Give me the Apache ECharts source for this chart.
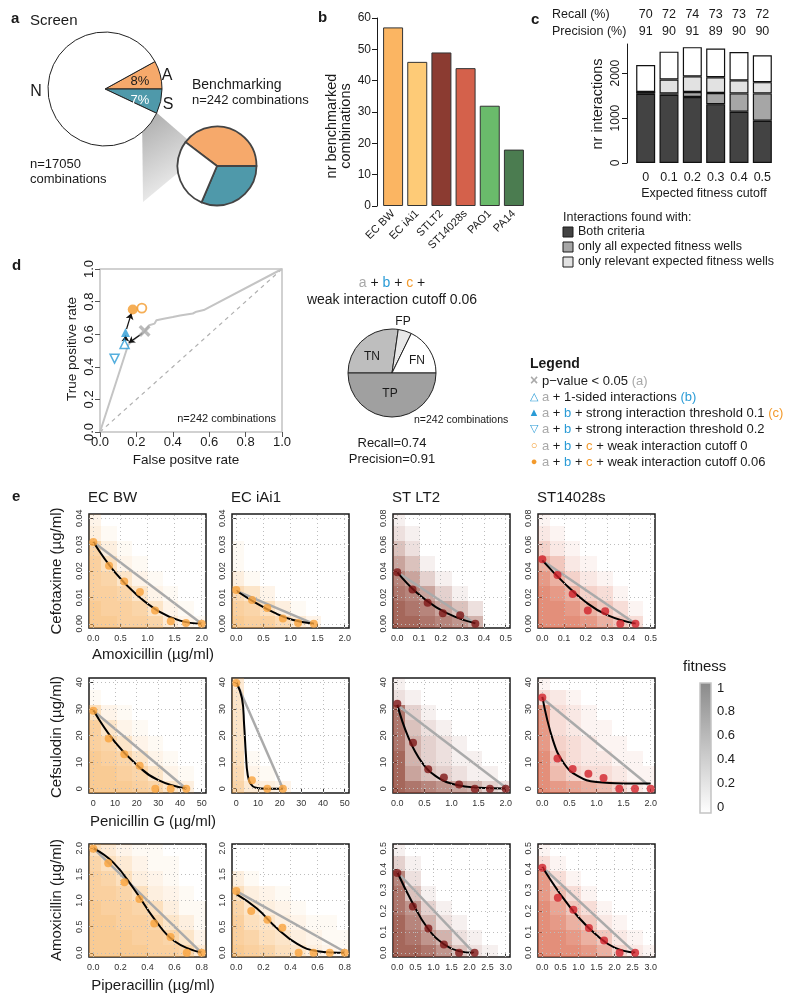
<!DOCTYPE html>
<html lang="en">
<head>
<meta charset="UTF-8">
<title>Benchmarking of drug interactions</title>
<script src="https://cdn.jsdelivr.net/npm/echarts@6/dist/echarts.min.js"></script>
<style>
    html, body { margin: 0; padding: 0; background: #fff; }
    #main { width: 800px; height: 1005px; }
</style>
</head>
<body>
<div id="main"></div>
<script>
var FF = '"Liberation Sans", Arial, Helvetica, sans-serif';

// ---- a: screen pie + benchmark pie
var screenNames = ['A', 'S', 'N'];
var screenShare = [8, 7, 85];
var benchCounts = [96, 76, 70];
var pieColors = ['#F6A96B', '#4F99AA', '#FFFFFF'];

// ---- b: benchmarked combinations per strain
var strains = ['EC BW', 'EC iAi1', 'STLT2', 'ST14028s', 'PAO1', 'PA14'];
var benchmarked = [57, 46, 49, 44, 32, 18];
var strainColors = ['#FBB562', '#FECB77', '#8B3B31', '#D4614B', '#6ABB6B', '#4B7C50'];

// ---- c: expected fitness cutoff
var cutoffs = ['0', '0.1', '0.2', '0.3', '0.4', '0.5'];
var recall = [70, 72, 74, 73, 73, 72];
var precision = [91, 90, 91, 89, 90, 90];
var bothCriteria = [1540, 1520, 1470, 1310, 1140, 940];
var onlyAllWells = [40, 30, 110, 250, 410, 610];
var onlyRelevantWells = [0, 310, 350, 350, 290, 250];
var restTop = [600, 620, 650, 640, 630, 600];

// ---- d: ROC
var rocCurve = [[0, 0], [0.155, 0.535], [0.2, 0.58], [0.245, 0.615], [0.27, 0.655], [0.3, 0.665],
    [0.31, 0.685], [0.35, 0.695], [0.4, 0.705], [0.44, 0.715], [0.51, 0.727], [0.53, 0.738],
    [0.57, 0.748], [1, 1]];
var ptPvalue = [[0.245, 0.62]];
var ptOneSided = [[0.135, 0.54]];
var ptStrong01 = [[0.14, 0.61]];
var ptStrong02 = [[0.08, 0.45]];
var ptWeak0 = [[0.23, 0.76]];
var ptWeak006 = [[0.18, 0.752]];
var rocArrows = [
    [[0.232, 0.604], [0.158, 0.548]],
    [[0.14, 0.56], [0.141, 0.592]],
    [[0.146, 0.632], [0.172, 0.728]]
];
var confNames = ['TN', 'FP', 'FN', 'TP'];
var confCounts = [66, 12, 43, 121];
var confColors = ['#BEBEBE', '#E8E8E8', '#FFFFFF', '#A0A0A0'];

// ---- e: isoboles
var eStrains = ['EC BW', 'EC iAi1', 'ST LT2', 'ST14028s'];
var eDrugX = ['Amoxicillin (µg/ml)', 'Penicillin G (µg/ml)', 'Piperacillin (µg/ml)'];
var eDrugY = ['Cefotaxime (µg/ml)', 'Cefsulodin (µg/ml)', 'Amoxicillin (µg/ml)'];
// [row][0 = E. coli, 1 = Salmonella]
var eXTicks = [
    [[0, 0.5, 1, 1.5, 2], [0, 0.1, 0.2, 0.3, 0.4, 0.5]],
    [[0, 10, 20, 30, 40, 50], [0, 0.5, 1, 1.5, 2]],
    [[0, 0.2, 0.4, 0.6, 0.8], [0, 0.5, 1, 1.5, 2, 2.5, 3]]
];
var eYTicks = [
    [[0, 0.01, 0.02, 0.03, 0.04], [0, 0.02, 0.04, 0.06, 0.08]],
    [[0, 10, 20, 30, 40], [0, 10, 20, 30, 40]],
    [[0, 0.5, 1, 1.5, 2], [0, 0.1, 0.2, 0.3, 0.4, 0.5]]
];
var eXDec = [[1, 1], [0, 1], [1, 1]];
var eYDec = [[2, 2], [0, 0], [1, 1]];
var doseX = [
    [[0, 0.29, 0.57, 0.86, 1.14, 1.43, 1.71, 2], [0, 0.07, 0.14, 0.21, 0.29, 0.36, 0.43, 0.5]],
    [[0, 7.1, 14.3, 21.4, 28.6, 35.7, 42.9, 50], [0, 0.29, 0.57, 0.86, 1.14, 1.43, 1.71, 2]],
    [[0, 0.11, 0.23, 0.34, 0.46, 0.57, 0.69, 0.8], [0, 0.43, 0.86, 1.29, 1.71, 2.14, 2.57, 3]]
];
var doseY = [
    [[0, 0.0057, 0.0114, 0.0171, 0.0229, 0.0286, 0.0343, 0.04], [0, 0.0114, 0.0229, 0.0343, 0.0457, 0.0571, 0.0686, 0.08]],
    [[0, 5.7, 11.4, 17.1, 22.9, 28.6, 34.3, 40], [0, 5.7, 11.4, 17.1, 22.9, 28.6, 34.3, 40]],
    [[0, 0.29, 0.57, 0.86, 1.14, 1.43, 1.71, 2], [0, 0.071, 0.143, 0.214, 0.286, 0.357, 0.429, 0.5]]
];
// fitness x10, rows from highest dose (top) to zero (bottom)
var heatBW1 = [[2,0,0,0,0,0,0,0],[3,1,0,0,0,0,0,0],[8,3,1,0,0,0,0,0],[9,6,2,1,0,0,0,0],[9,8,5,2,1,0,0,0],[9,9,8,5,2,1,0,0],[10,9,9,8,5,2,1,0],[10,10,9,9,8,4,2,1]];
var heatIA1 = [[0,0,0,0,0,0,0,0],[0,0,0,0,0,0,0,0],[1,0,0,0,0,0,0,0],[1,0,0,0,0,0,0,0],[3,1,0,0,0,0,0,0],[7,5,2,0,0,0,0,0],[9,8,6,3,1,0,0,0],[10,9,9,7,4,2,0,0]];
var heatLT1 = [[1,0,0,0,0,0,0,0],[2,1,0,0,0,0,0,0],[4,2,0,0,0,0,0,0],[6,4,1,0,0,0,0,0],[8,6,3,1,0,0,0,0],[9,8,6,3,1,0,0,0],[10,9,8,6,4,2,0,0],[10,10,9,8,7,5,0,0]];
var heat14_1 = [[1,0,0,0,0,0,0,0],[2,1,0,0,0,0,0,0],[4,2,1,0,0,0,0,0],[7,5,2,1,0,0,0,0],[9,7,4,2,1,0,0,0],[10,9,7,4,3,1,0,0],[10,10,9,7,5,3,1,0],[10,10,10,9,7,5,3,0]];
var heatBW2 = [[0,0,0,0,0,0,0,0],[1,0,0,0,0,0,0,0],[6,2,1,0,0,0,0,0],[9,5,2,1,0,0,0,0],[9,8,5,2,1,0,0,0],[10,9,8,5,2,1,0,0],[10,10,9,8,5,2,1,0],[10,10,10,9,8,5,3,0]];
var heatIA2 = [[4,0,0,0,0,0,0,0],[5,0,0,0,0,0,0,0],[5,0,0,0,0,0,0,0],[5,0,0,0,0,0,0,0],[5,0,0,0,0,0,0,0],[6,1,0,0,0,0,0,0],[7,2,1,0,0,0,0,0],[8,4,3,2,0,0,0,0]];
var heatLT2 = [[1,0,0,0,0,0,0,0],[2,1,0,0,0,0,0,0],[9,3,1,0,0,0,0,0],[9,4,2,1,0,0,0,0],[9,5,3,2,1,0,0,0],[10,5,3,2,1,1,0,0],[10,6,4,3,2,1,1,0],[10,9,8,7,6,5,3,2]];
var heat14_2 = [[1,0,0,0,0,0,0,0],[3,2,1,0,0,0,0,0],[9,3,2,1,0,0,0,0],[9,3,2,1,1,0,0,0],[9,4,3,2,1,1,0,0],[10,5,3,2,2,1,1,0],[10,6,4,3,3,2,1,1],[10,9,8,7,6,4,2,1]];
var heatBW3 = [[6,4,2,1,1,0,0,0],[8,6,4,2,1,1,0,0],[9,8,6,3,2,1,0,0],[9,9,8,6,3,2,1,0],[10,9,9,8,6,3,1,1],[10,10,9,9,8,5,3,1],[10,10,10,9,9,8,5,2],[10,10,10,10,9,9,8,4]];
var heatIA3 = [[0,0,0,0,0,0,0,0],[0,0,0,0,0,0,0,0],[3,1,0,0,0,0,0,0],[6,3,2,1,0,0,0,0],[8,5,3,2,1,0,0,0],[9,6,5,3,2,1,1,0],[9,8,6,5,3,2,1,1],[10,9,8,6,5,3,2,1]];
var heatLT3 = [[1,0,0,0,0,0,0,0],[3,1,0,0,0,0,0,0],[8,2,0,0,0,0,0,0],[9,4,1,0,0,0,0,0],[9,7,3,1,0,0,0,0],[10,8,5,2,1,0,0,0],[10,9,7,5,2,1,0,0],[10,10,9,7,4,2,1,0]];
var heat14_3 = [[1,0,0,0,0,0,0,0],[3,1,0,0,0,0,0,0],[9,3,1,0,0,0,0,0],[9,6,3,1,0,0,0,0],[10,8,5,3,1,0,0,0],[10,9,7,5,2,1,0,0],[10,10,9,7,5,2,1,0],[10,10,10,9,7,4,2,1]];
var eHeat = [heatBW1, heatIA1, heatLT1, heat14_1, heatBW2, heatIA2, heatLT2, heat14_2, heatBW3, heatIA3, heatLT3, heat14_3];

var ePoints = [
    [[0, 0.031], [0.29, 0.022], [0.57, 0.016], [0.86, 0.012], [1.14, 0.005], [1.43, 0.001], [1.71, 0.0003], [2, 0]],
    [[0, 0.0128], [0.29, 0.009], [0.57, 0.006], [0.86, 0.002], [1.14, 0.0003], [1.43, 0]],
    [[0, 0.039], [0.07, 0.026], [0.14, 0.016], [0.21, 0.008], [0.29, 0.0065], [0.36, 0]],
    [[0, 0.049], [0.07, 0.037], [0.14, 0.0225], [0.21, 0.010], [0.29, 0.0095], [0.36, 0], [0.43, 0]],
    [[0, 29.3], [7.1, 18.9], [14.3, 13], [21.4, 8.6], [28.6, 0], [35.7, 0], [42.9, 0]],
    [[0, 39.7], [7.2, 3.2], [14.3, 0], [21.5, 0]],
    [[0, 31.9], [0.29, 17.3], [0.57, 7.3], [0.86, 4.2], [1.14, 1.6], [1.43, 0], [1.71, 0], [2, 0]],
    [[0, 34.3], [0.28, 11.4], [0.56, 7.4], [0.85, 5.6], [1.13, 4], [1.42, 0], [1.71, 0], [2, 0]],
    [[0, 1.99], [0.11, 1.71], [0.23, 1.35], [0.34, 1.03], [0.45, 0.56], [0.57, 0.3], [0.69, 0], [0.8, 0]],
    [[0, 1.18], [0.11, 0.8], [0.23, 0.63], [0.34, 0.48], [0.46, 0], [0.57, 0], [0.69, 0], [0.8, 0]],
    [[0, 0.381], [0.43, 0.221], [0.86, 0.116], [1.29, 0.04], [1.71, 0], [2.14, 0]],
    [[0, 0.407], [0.43, 0.263], [0.86, 0.206], [1.29, 0.118], [1.71, 0.059], [2.14, 0], [2.57, 0]]
];
var eFits = [
    [[0, 0.031], [0.4, 0.0195], [0.8, 0.011], [1.2, 0.0048], [1.6, 0.0012], [2, 0]],
    [[0, 0.0125], [0.35, 0.008], [0.7, 0.0042], [1.05, 0.0014], [1.43, 0]],
    [[0, 0.039], [0.09, 0.0235], [0.18, 0.0125], [0.27, 0.005], [0.36, 0.0003]],
    [[0, 0.048], [0.1, 0.031], [0.2, 0.0165], [0.3, 0.0065], [0.43, 0]],
    [[0, 29.5], [10, 17.5], [20, 9], [30, 3.2], [42.9, 0]],
    [[0, 40], [2.6, 34], [3.6, 24], [4.4, 13], [5.2, 5.5], [6.5, 2], [9, 0.4], [14, 0], [21.5, 0]],
    [[0, 31.5], [0.2, 19.5], [0.45, 10], [0.75, 4.2], [1.1, 1.4], [1.5, 0.4], [2, 0.1]],
    [[0, 34.5], [0.2, 18], [0.4, 9.5], [0.65, 4.8], [1, 2.5], [1.5, 2], [2, 2]],
    [[0, 2], [0.15, 1.72], [0.3, 1.22], [0.45, 0.65], [0.6, 0.22], [0.8, 0]],
    [[0, 1.12], [0.15, 0.85], [0.3, 0.47], [0.45, 0.17], [0.6, 0.03], [0.8, 0]],
    [[0, 0.385], [0.4, 0.245], [0.85, 0.115], [1.3, 0.04], [1.7, 0.008], [2.12, 0]],
    [[0, 0.41], [0.5, 0.28], [1, 0.17], [1.5, 0.085], [2, 0.025], [2.57, 0]]
];
var eAdditive = [
    [[0, 0.031], [2, 0]], [[0, 0.0125], [1.43, 0]], [[0, 0.039], [0.36, 0]], [[0, 0.048], [0.43, 0]],
    [[0, 29.3], [42.9, 0]], [[0, 40], [21.5, 0]], [[0, 31.5], [2, 0.5]], [[0, 34], [1.95, 1.5]],
    [[0, 2], [0.8, 0]], [[0, 1.18], [0.8, 0.02]], [[0, 0.385], [2.12, 0]], [[0, 0.41], [2.57, 0]]
];
var ePointColors = ['#F9A33C', '#F9A33C', '#7E1616', '#D1222B'];
var eHeatRgb = ['245,165,70', '245,165,70', '140,60,45', '215,95,65'];
var eHeatAlpha = [0.58, 0.58, 0.78, 0.7];
var fitnessTicks = ['1', '0.8', '0.6', '0.4', '0.2', '0'];

var myChart = echarts.init(document.getElementById('main'));

function txt(x, y, s, o) {
    o = o || {};
    var st = {
        text: s, fill: o.color || '#1a1a1a',
        fontSize: o.size || 13, fontFamily: FF, fontWeight: o.bold ? 'bold' : 'normal',
        textAlign: o.align || 'left', textVerticalAlign: 'middle',
        align: o.align || 'left', verticalAlign: 'middle'
    };
    if (o.rich) st.rich = o.rich;
    return {type: 'text', x: x, y: y, rotation: o.rot || 0, z: 100, silent: true, style: st};
}
function richPart(color, size) {
    return {fill: color, color: color, fontSize: size, fontFamily: FF};
}
function legRich(size) {
    return {g: richPart('#A8A8A8', size), b: richPart('#2A9BD6', size), o: richPart('#F39A2C', size)};
}

var grids = [], xAxes = [], yAxes = [], series = [], gfx = [];

// ---------- a
series.push({
    type: 'pie', center: [105, 89], radius: 57, startAngle: 28.8, clockwise: true, silent: true,
    label: {show: false}, labelLine: {show: false},
    itemStyle: {borderColor: '#222', borderWidth: 1},
    data: screenNames.map(function (n, i) { return {name: n, value: screenShare[i], itemStyle: {color: pieColors[i]}}; })
});
var benchSum = benchCounts.reduce(function (a, b) { return a + b; }, 0);
series.push({
    type: 'pie', center: [217, 166], radius: 39.5, startAngle: benchCounts[0] / benchSum * 360, clockwise: true, silent: true,
    label: {show: false}, labelLine: {show: false},
    itemStyle: {borderColor: '#444', borderWidth: 1.8},
    data: screenNames.map(function (n, i) { return {name: n, value: benchCounts[i], itemStyle: {color: pieColors[i]}}; })
});
gfx.push({
    type: 'polygon', z: 0, silent: true,
    shape: {points: [[142, 111], [157, 113], [187, 139], [197, 157], [143, 202]]},
    style: {fill: {type: 'linear', x: 0, y: 0, x2: 1, y2: 1, colorStops: [{offset: 0, color: '#a8a8a8'}, {offset: 1, color: '#ffffff'}]}}
});
gfx.push(txt(11, 19, 'a', {bold: true, size: 15}));
gfx.push(txt(30, 21, 'Screen', {size: 15}));
gfx.push(txt(36, 92, 'N', {size: 16, align: 'center'}));
gfx.push(txt(167, 76, 'A', {size: 16, align: 'center'}));
gfx.push(txt(168, 105, 'S', {size: 16, align: 'center'}));
gfx.push(txt(140, 81, '8%', {size: 13, align: 'center'}));
gfx.push(txt(140, 100, '7%', {size: 13, align: 'center', color: '#fff'}));
gfx.push(txt(192, 85, 'Benchmarking', {size: 14}));
gfx.push(txt(192, 100, 'n=242 combinations', {size: 13}));
gfx.push(txt(30, 164, 'n=17050', {size: 13}));
gfx.push(txt(30, 179, 'combinations', {size: 13}));

// ---------- b
grids.push({left: 381, top: 18, width: 145, height: 188});
xAxes.push({
    gridIndex: 0, type: 'category', data: strains,
    axisLine: {show: false}, axisTick: {show: false},
    axisLabel: {interval: 0, rotate: 45, fontSize: 11, color: '#1a1a1a', margin: 6}
});
yAxes.push({
    gridIndex: 0, type: 'value', min: 0, max: 60, interval: 10, offset: 4,
    axisLine: {show: true, lineStyle: {color: '#1a1a1a', width: 1}},
    axisTick: {show: true, length: 5, lineStyle: {color: '#1a1a1a'}},
    axisLabel: {fontSize: 12, color: '#1a1a1a', margin: 6},
    splitLine: {show: false}
});
series.push({
    type: 'bar', xAxisIndex: 0, yAxisIndex: 0, barWidth: 20, silent: true,
    itemStyle: {borderColor: '#333', borderWidth: 1},
    data: benchmarked.map(function (v, i) { return {value: v, itemStyle: {color: strainColors[i]}}; })
});
gfx.push(txt(318, 18, 'b', {bold: true, size: 15}));
gfx.push(txt(332, 126, 'nr benchmarked', {size: 14.5, align: 'center', rot: Math.PI / 2}));
gfx.push(txt(346, 126, 'combinations', {size: 14.5, align: 'center', rot: Math.PI / 2}));

// ---------- c
grids.push({left: 634, top: 44, width: 140, height: 119});
xAxes.push({
    gridIndex: 1, type: 'category', data: cutoffs,
    axisLine: {show: false}, axisTick: {show: false},
    axisLabel: {interval: 0, fontSize: 12.5, color: '#1a1a1a', margin: 8}
});
xAxes.push({
    gridIndex: 1, type: 'category', position: 'top', data: cutoffs,
    axisLine: {show: false}, axisTick: {show: false},
    axisLabel: {
        interval: 0, fontSize: 12.5, lineHeight: 17, color: '#1a1a1a', margin: 4,
        formatter: function (v, i) { return recall[i] + '\n' + precision[i]; }
    }
});
yAxes.push({
    gridIndex: 1, type: 'value', min: 0, max: 2650, offset: 7,
    axisLine: {show: true, lineStyle: {color: '#1a1a1a'}},
    axisTick: {show: true, length: 5, customValues: [0, 1000, 2000], lineStyle: {color: '#1a1a1a'}},
    axisLabel: {customValues: [0, 1000, 2000], rotate: 90, fontSize: 12, color: '#1a1a1a', margin: 5,
        formatter: function (v) { return String(v); }},
    splitLine: {show: false}
});
[[bothCriteria, '#434343'], [onlyAllWells, '#A6A6A6'], [onlyRelevantWells, '#E2E2E2'], [restTop, '#FFFFFF']].forEach(function (s) {
    series.push({
        type: 'bar', xAxisIndex: 1, yAxisIndex: 1, stack: 'c', barWidth: 19, silent: true,
        itemStyle: {color: s[1], borderColor: '#111', borderWidth: 1.2},
        data: s[0]
    });
});
gfx.push(txt(531, 20, 'c', {bold: true, size: 15}));
gfx.push(txt(552, 15, 'Recall (%)', {size: 12.5}));
gfx.push(txt(552, 32, 'Precision (%)', {size: 12.5}));
gfx.push(txt(598, 104, 'nr interactions', {size: 14.5, align: 'center', rot: Math.PI / 2}));
gfx.push(txt(704, 194, 'Expected fitness cutoff', {size: 12.5, align: 'center'}));
gfx.push(txt(563, 218, 'Interactions found with:', {size: 12.5}));
[['#434343', 'Both criteria'], ['#A6A6A6', 'only all expected fitness wells'], ['#E2E2E2', 'only relevant expected fitness wells']].forEach(function (l, i) {
    var yy = 232 + i * 15;
    gfx.push({type: 'rect', z: 100, silent: true, shape: {x: 563, y: yy - 5, width: 10, height: 10}, style: {fill: l[0], stroke: '#1a1a1a', lineWidth: 1}});
    gfx.push(txt(578, yy, l[1], {size: 12.5}));
});

// ---------- d (ROC)
grids.push({left: 100, top: 269, width: 182, height: 163, show: true, borderColor: '#C2C2C2', borderWidth: 1.5});
xAxes.push({
    gridIndex: 2, type: 'value', min: 0, max: 1, interval: 0.2,
    axisLine: {show: false}, splitLine: {show: false},
    axisTick: {show: true, length: 5, lineStyle: {color: '#555'}},
    axisLabel: {fontSize: 13, color: '#1a1a1a', margin: 4, formatter: function (v) { return v.toFixed(1); }}
});
yAxes.push({
    gridIndex: 2, type: 'value', min: 0, max: 1, interval: 0.2,
    axisLine: {show: false}, splitLine: {show: false},
    axisTick: {show: true, length: 5, lineStyle: {color: '#555'}},
    axisLabel: {fontSize: 13, color: '#1a1a1a', margin: 4, rotate: 90, formatter: function (v) { return v.toFixed(1); }}
});
series.push({
    type: 'line', xAxisIndex: 3, yAxisIndex: 2, data: [[0, 0], [1, 1]], symbol: 'none', silent: true,
    lineStyle: {color: '#B0B0B0', width: 1.2, type: [4, 4]}
});
series.push({
    type: 'line', xAxisIndex: 3, yAxisIndex: 2, data: rocCurve, symbol: 'none', silent: true,
    lineStyle: {color: '#C4C4C4', width: 2}
});
series.push({
    type: 'lines', coordinateSystem: 'cartesian2d', xAxisIndex: 3, yAxisIndex: 2, silent: true, z: 5,
    symbol: ['none', 'arrow'], symbolSize: 6,
    lineStyle: {color: '#111', width: 1.2, opacity: 1},
    data: rocArrows.map(function (c) { return {coords: c}; })
});
var crossPath = 'path://M2,0L5,3L8,0L10,2L7,5L10,8L8,10L5,7L2,10L0,8L3,5L0,2Z';
[
    [ptPvalue, crossPath, 12, {color: '#AAAAAA'}, 0],
    [ptOneSided, 'triangle', 9, {color: '#fff', borderColor: '#2A9BD6', borderWidth: 1.5}, 0],
    [ptStrong01, 'triangle', 9, {color: '#2A9BD6'}, 0],
    [ptStrong02, 'triangle', 9, {color: '#fff', borderColor: '#2A9BD6', borderWidth: 1.5}, 180],
    [ptWeak0, 'circle', 9, {color: '#fff', borderColor: '#F39A2C', borderWidth: 1.8}, 0],
    [ptWeak006, 'circle', 10, {color: '#F39A2C'}, 0]
].forEach(function (m) {
    series.push({
        type: 'scatter', xAxisIndex: 3, yAxisIndex: 2, data: m[0], symbol: m[1], symbolSize: m[2],
        symbolRotate: m[4], itemStyle: m[3], silent: true, z: 6
    });
});
gfx.push(txt(12, 266, 'd', {bold: true, size: 15}));
gfx.push(txt(276, 419, 'n=242 combinations', {size: 11, align: 'right'}));
gfx.push(txt(186, 460, 'False positve rate', {size: 13.5, align: 'center'}));
gfx.push(txt(72, 349, 'True positive rate', {size: 13.5, align: 'center', rot: Math.PI / 2}));

series.push({
    type: 'pie', center: [392, 373], radius: 44, startAngle: 180, clockwise: true, silent: true,
    label: {show: false}, labelLine: {show: false},
    itemStyle: {borderColor: '#222', borderWidth: 1},
    data: confNames.map(function (n, i) { return {name: n, value: confCounts[i], itemStyle: {color: confColors[i]}}; })
});
gfx.push(txt(392, 283, '{g|a} + {b|b} + {o|c} +', {size: 14, align: 'center', rich: legRich(14)}));
gfx.push(txt(392, 300, 'weak interaction cutoff 0.06', {size: 14, align: 'center'}));
gfx.push(txt(372, 357, 'TN', {size: 12, align: 'center'}));
gfx.push(txt(417, 361, 'FN', {size: 12, align: 'center'}));
gfx.push(txt(403, 322, 'FP', {size: 12, align: 'center'}));
gfx.push(txt(390, 394, 'TP', {size: 12, align: 'center'}));
gfx.push(txt(414, 420, 'n=242 combinations', {size: 10.5}));
gfx.push(txt(392, 443, 'Recall=0.74', {size: 13, align: 'center'}));
gfx.push(txt(392, 459, 'Precision=0.91', {size: 13, align: 'center'}));

gfx.push(txt(530, 364, 'Legend', {bold: true, size: 14}));
var legRows = [
    ['×', '#AAAAAA', 'p\u2212value < 0.05 {g|(a)}'],
    ['\u25B3', '#2A9BD6', '{g|a} + 1-sided interactions {b|(b)}'],
    ['\u25B2', '#2A9BD6', '{g|a} + {b|b} + strong interaction threshold 0.1 {o|(c)}'],
    ['\u25BD', '#2A9BD6', '{g|a} + {b|b} + strong interaction threshold 0.2'],
    ['\u25CB', '#F39A2C', '{g|a} + {b|b} + {o|c} + weak interaction cutoff 0'],
    ['\u25CF', '#F39A2C', '{g|a} + {b|b} + {o|c} + weak interaction cutoff 0.06']
];
var legY = [381, 397, 413, 429, 446, 462];
legRows.forEach(function (r, i) {
    gfx.push(txt(534, legY[i], r[0], {size: i === 0 ? 14 : 11, color: r[1], align: 'center', bold: i === 0}));
    gfx.push(txt(542, legY[i], r[2], {size: 13, rich: legRich(13)}));
});

// ---------- e (isoboles)
var colLeft = [89, 232, 393, 538], rowTop = [514, 678, 844], rowH = [114, 115, 113], boxW = 117;
function fmt(d) { return function (v) { return Number(v).toFixed(d); }; }
// tile edges sit halfway between neighbouring doses
function edges(d) {
    return d.map(function (v, j) {
        var lo = j === 0 ? v - (d[1] - d[0]) / 2 : (d[j - 1] + v) / 2;
        var hi = j === d.length - 1 ? v + (v - d[j - 1]) / 2 : (v + d[j + 1]) / 2;
        return [lo, hi];
    });
}
function heatRender(rgb, alpha) {
    return function (params, api) {
        var f = api.value(2);
        var p0 = api.coord([api.value(3), api.value(6)]);
        var p1 = api.coord([api.value(4), api.value(5)]);
        var cs = params.coordSys;
        var x0 = Math.round(p0[0]), y0 = Math.round(p0[1]);
        var r = echarts.graphic.clipRectByRect(
            {x: x0, y: y0, width: Math.round(p1[0]) - x0, height: Math.round(p1[1]) - y0},
            {x: cs.x, y: cs.y, width: cs.width, height: cs.height});
        if (!r) return;
        return {type: 'rect', shape: r, style: {fill: 'rgba(' + rgb + ',' + (f / 10 * alpha).toFixed(3) + ')'}};
    };
}
for (var r = 0; r < 3; r++) {
    for (var c = 0; c < 4; c++) {
        var k = r * 4 + c, pair = c < 2 ? 0 : 1;
        var xt = eXTicks[r][pair], yt = eYTicks[r][pair];
        var xm = xt[xt.length - 1], ym = yt[yt.length - 1];
        var gi = grids.length, ai = xAxes.length, yi = yAxes.length;
        grids.push({left: colLeft[c], top: rowTop[r], width: boxW, height: rowH[r], show: true, borderColor: '#1a1a1a', borderWidth: 1.5});
        xAxes.push({
            gridIndex: gi, type: 'value', min: -0.04 * xm, max: 1.04 * xm,
            axisLine: {show: false}, splitLine: {show: false},
            axisTick: {show: true, customValues: xt, length: 3, lineStyle: {color: '#333'}},
            axisLabel: {customValues: xt, fontSize: 9, color: '#333', margin: 6, formatter: fmt(eXDec[r][pair])}
        });
        yAxes.push({
            gridIndex: gi, type: 'value', min: -0.04 * ym, max: 1.04 * ym,
            axisLine: {show: false}, splitLine: {show: false},
            axisTick: {show: true, customValues: yt, length: 3, lineStyle: {color: '#333'}},
            axisLabel: {customValues: yt, rotate: 90, fontSize: 9, color: '#333', margin: 5, formatter: fmt(eYDec[r][pair])}
        });
        var dxs = doseX[r][pair], dys = doseY[r][pair];
        var ex = edges(dxs), ey = edges(dys);
        var heat = [];
        eHeat[k].forEach(function (row, i) {
            row.forEach(function (f, j) {
                var yl = 7 - i;
                if (f > 0) heat.push([dxs[j], dys[yl], f, ex[j][0], ex[j][1], ey[yl][0], ey[yl][1]]);
            });
        });
        series.push({
            type: 'custom', xAxisIndex: ai, yAxisIndex: yi, z: 1, silent: true, data: heat,
            encode: {x: 0, y: 1},
            renderItem: heatRender(eHeatRgb[c], eHeatAlpha[c])
        });
        series.push({
            type: 'line', xAxisIndex: ai, yAxisIndex: yi, z: 3, silent: true, data: eAdditive[k], symbol: 'none',
            lineStyle: {color: '#AAAAAA', width: 2.5},
            markLine: {
                silent: true, symbol: ['none', 'none'], label: {show: false}, animation: false,
                lineStyle: {color: '#BDBDBD', type: [1, 3], width: 1},
                data: xt.map(function (v) { return {xAxis: v}; }).concat(yt.map(function (v) { return {yAxis: v}; }))
            }
        });
        series.push({
            type: 'line', xAxisIndex: ai, yAxisIndex: yi, z: 4, silent: true, data: eFits[k], symbol: 'none',
            smooth: 0.45, lineStyle: {color: '#000', width: 2}
        });
        series.push({
            type: 'scatter', xAxisIndex: ai, yAxisIndex: yi, z: 5, silent: true, data: ePoints[k],
            symbolSize: 8, itemStyle: {color: ePointColors[c]}
        });
    }
}
gfx.push(txt(12, 497, 'e', {bold: true, size: 15}));
eStrains.forEach(function (s, c) { gfx.push(txt(colLeft[c] - 1, 498, s, {size: 15})); });
var yLabY = [571, 737, 900], xLabY = [655, 822, 986];
eDrugY.forEach(function (s, r) { gfx.push(txt(57, yLabY[r], s, {size: 15, align: 'center', rot: Math.PI / 2})); });
eDrugX.forEach(function (s, r) { gfx.push(txt(153, xLabY[r], s, {size: 15, align: 'center'})); });

// fitness colour key
gfx.push(txt(683, 667, 'fitness', {size: 15}));
gfx.push({
    type: 'rect', z: 100, silent: true, shape: {x: 700, y: 683, width: 11, height: 130},
    style: {
        fill: {type: 'linear', x: 0, y: 0, x2: 0, y2: 1, colorStops: [{offset: 0, color: '#8A8A8A'}, {offset: 1, color: '#FFFFFF'}]},
        stroke: '#C4C4C4', lineWidth: 1.5
    }
});
fitnessTicks.forEach(function (t, i) { gfx.push(txt(717, 688 + i * 23.8, t, {size: 13})); });

var option = {
    animation: false,
    backgroundColor: '#fff',
    textStyle: {fontFamily: FF},
    grid: grids,
    xAxis: xAxes,
    yAxis: yAxes,
    series: series,
    graphic: {elements: gfx}
};
myChart.setOption(option);
</script>
</body>
</html>
